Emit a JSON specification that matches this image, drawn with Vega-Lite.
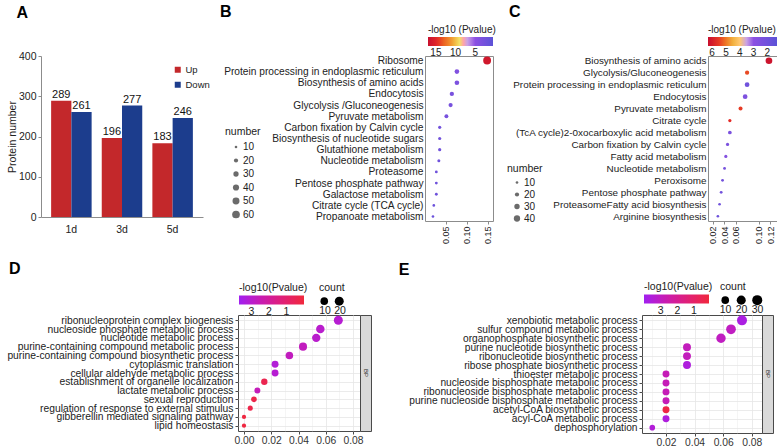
{
  "$schema": "https://vega.github.io/schema/vega-lite/v6.json",
  "background": "white",
  "padding": {"left": 2, "top": 3, "right": 0, "bottom": 0},
  "config": {
    "font": "Liberation Sans",
    "view": {"stroke": null},
    "axis": {"labelFont": "Liberation Sans", "titleFont": "Liberation Sans", "labelColor": "#222", "titleColor": "#222", "titleFontWeight": "normal"},
    "legend": {"labelFont": "Liberation Sans", "titleFont": "Liberation Sans", "labelColor": "#222", "titleColor": "#222", "titleFontWeight": "normal"},
    "title": {"font": "Liberation Sans", "fontSize": 16, "fontWeight": "bold", "color": "#000", "anchor": "start", "frame": "bounds"}
  },
  "datasets": {
    "proteinCounts": [
      {"day": "1d", "direction": "Up", "proteins": 289},
      {"day": "1d", "direction": "Down", "proteins": 261},
      {"day": "3d", "direction": "Up", "proteins": 196},
      {"day": "3d", "direction": "Down", "proteins": 277},
      {"day": "5d", "direction": "Up", "proteins": 183},
      {"day": "5d", "direction": "Down", "proteins": 246}
    ],
    "pathways1": [
      {"pathway": "Ribosome", "ratio": 0.148, "number": 63, "logp": 16.3},
      {"pathway": "Protein processing in endoplasmic reticulum", "ratio": 0.076, "number": 24, "logp": 4.0},
      {"pathway": "Biosynthesis of amino acids", "ratio": 0.076, "number": 24, "logp": 3.5},
      {"pathway": "Endocytosis", "ratio": 0.064, "number": 21, "logp": 3.2},
      {"pathway": "Glycolysis /Gluconeogenesis", "ratio": 0.061, "number": 20, "logp": 3.0},
      {"pathway": "Pyruvate metabolism", "ratio": 0.051, "number": 18, "logp": 3.0},
      {"pathway": "Carbon fixation by Calvin cycle", "ratio": 0.035, "number": 13, "logp": 2.6},
      {"pathway": "Biosynthesis of nucleotide sugars", "ratio": 0.035, "number": 13, "logp": 2.6},
      {"pathway": "Glutathione metabolism", "ratio": 0.035, "number": 13, "logp": 2.5},
      {"pathway": "Nucleotide metabolism", "ratio": 0.033, "number": 12, "logp": 2.4},
      {"pathway": "Proteasome", "ratio": 0.027, "number": 11, "logp": 2.3},
      {"pathway": "Pentose phosphate pathway", "ratio": 0.027, "number": 11, "logp": 2.3},
      {"pathway": "Galactose metabolism", "ratio": 0.027, "number": 11, "logp": 2.2},
      {"pathway": "Citrate cycle (TCA cycle)", "ratio": 0.021, "number": 10, "logp": 2.0},
      {"pathway": "Propanoate metabolism", "ratio": 0.019, "number": 10, "logp": 2.0}
    ],
    "pathways2": [
      {"pathway": "Biosynthesis of amino acids", "ratio": 0.118, "number": 44, "logp": 6.2},
      {"pathway": "Glycolysis/Gluconeogenesis", "ratio": 0.080, "number": 20, "logp": 5.4},
      {"pathway": "Protein processing in endoplasmic reticulum", "ratio": 0.080, "number": 24, "logp": 2.0},
      {"pathway": "Endocytosis", "ratio": 0.0766, "number": 24, "logp": 2.5},
      {"pathway": "Pyruvate metabolism", "ratio": 0.0686, "number": 18, "logp": 5.5},
      {"pathway": "Citrate cycle", "ratio": 0.050, "number": 13, "logp": 5.6},
      {"pathway": "(TcA cycle)2-0xocarboxylic acid metabolism", "ratio": 0.050, "number": 16, "logp": 2.4},
      {"pathway": "Carbon fixation by Calvin cycle", "ratio": 0.046, "number": 13, "logp": 2.4},
      {"pathway": "Fatty acid metabolism", "ratio": 0.043, "number": 13, "logp": 2.7},
      {"pathway": "Nucleotide metabolism", "ratio": 0.0408, "number": 11, "logp": 2.2},
      {"pathway": "Peroxisome", "ratio": 0.0373, "number": 11, "logp": 2.1},
      {"pathway": "Pentose phosphate pathway", "ratio": 0.0349, "number": 11, "logp": 2.1},
      {"pathway": "ProteasomeFatty acid biosynthesis", "ratio": 0.0321, "number": 10, "logp": 2.0},
      {"pathway": "Arginine biosynthesis", "ratio": 0.0292, "number": 10, "logp": 1.9}
    ],
    "goTerms1": [
      {"term": "ribonucleoprotein complex biogenesis", "ratio": 0.0692, "count": 20, "logp": 3.1},
      {"term": "nucleoside phosphate metabolic process", "ratio": 0.056, "count": 16, "logp": 3.0},
      {"term": "nucleotide metabolic process", "ratio": 0.053, "count": 15, "logp": 3.0},
      {"term": "purine-containing compound metabolic process", "ratio": 0.0433, "count": 13, "logp": 2.7},
      {"term": "purine-containing compound biosynthetic process", "ratio": 0.0333, "count": 10, "logp": 2.7},
      {"term": "cytoplasmic translation", "ratio": 0.0228, "count": 7, "logp": 3.2},
      {"term": "cellular aldehyde metabolic process", "ratio": 0.0228, "count": 7, "logp": 3.1},
      {"term": "establishment of organelle localization", "ratio": 0.0149, "count": 5, "logp": 0.4},
      {"term": "lactate metabolic process", "ratio": 0.0098, "count": 4, "logp": 2.6},
      {"term": "sexual reproduction", "ratio": 0.0073, "count": 3, "logp": 0.3},
      {"term": "regulation of response to external stimulus", "ratio": 0.0046, "count": 2, "logp": 0.3},
      {"term": "gibberellin mediated signaling pathway", "ratio": 0.0, "count": 1, "logp": 0.1},
      {"term": "lipid homeostasis", "ratio": 0.0, "count": 1, "logp": 0.1}
    ],
    "goTerms2": [
      {"term": "xenobiotic metabolic process", "ratio": 0.0732, "count": 30, "logp": 3.7},
      {"term": "sulfur compound metabolic process", "ratio": 0.0655, "count": 27, "logp": 3.0},
      {"term": "organophosphate biosynthetic process", "ratio": 0.0585, "count": 24, "logp": 3.0},
      {"term": "purine nucleotide biosynthetic process", "ratio": 0.0347, "count": 12, "logp": 2.9},
      {"term": "ribonucleotide biosynthetic process", "ratio": 0.0347, "count": 12, "logp": 2.9},
      {"term": "ribose phosphate biosynthetic process", "ratio": 0.0347, "count": 12, "logp": 3.6},
      {"term": "thioester metabolic process", "ratio": 0.02, "count": 7, "logp": 2.8},
      {"term": "nucleoside bisphosphate metabolic process", "ratio": 0.02, "count": 7, "logp": 2.8},
      {"term": "ribonucleoside bisphosphate metabolic process", "ratio": 0.02, "count": 7, "logp": 2.8},
      {"term": "purine nucleoside bisphosphate metabolic process", "ratio": 0.02, "count": 7, "logp": 2.8},
      {"term": "acetyl-CoA biosynthetic process", "ratio": 0.02, "count": 7, "logp": 0.3},
      {"term": "acyl-CoA metabolic process", "ratio": 0.02, "count": 7, "logp": 3.6},
      {"term": "dephosphorylation", "ratio": 0.0104, "count": 3, "logp": 3.5}
    ],
    "ontology": [{"ontology": "BP"}]
  },
  "columns": 1,
  "spacing": 15,
  "align": "none",
  "resolve": {"scale": {"color": "independent", "size": "independent"}},
  "concat": [
    {
      "hconcat": [
        {
          "title": {"text": "A", "offset": 30, "dx": 9},
          "width": 162,
          "height": 161,
          "data": {"name": "proteinCounts"},
          "encoding": {
            "x": {"field": "day", "type": "nominal", "sort": null,
                  "scale": {"paddingInner": 0.2, "paddingOuter": 0.2},
                  "axis": {"title": null, "labelAngle": 0, "labelFontSize": 10.5, "domainColor": "#8c8c8c", "ticks": false, "labelPadding": 7}},
            "xOffset": {"field": "direction", "type": "nominal", "sort": ["Up", "Down"]},
            "y": {"field": "proteins", "type": "quantitative", "scale": {"domain": [0, 400]},
                  "axis": {"title": "Protein number", "values": [0, 100, 200, 300, 400], "grid": false, "domainColor": "#8c8c8c", "tickColor": "#8c8c8c", "tickSize": 3, "labelPadding": 2, "labelFontSize": 10.5, "titleFontSize": 10.5, "titlePadding": 1}}
          },
          "layer": [
            {
              "mark": {"type": "bar"},
              "encoding": {
                "color": {"field": "direction", "type": "nominal", "sort": ["Up", "Down"],
                          "scale": {"domain": ["Up", "Down"], "range": ["#c3282b", "#1c3d8d"]},
                          "legend": {"orient": "none", "legendX": 132, "legendY": 9, "title": null, "symbolType": "square", "symbolSize": 36, "labelFontSize": 9.5, "rowPadding": 4, "labelOffset": 3}}
              }
            },
            {
              "mark": {"type": "text", "baseline": "bottom", "dy": -1, "fontSize": 11, "color": "#111"},
              "encoding": {"text": {"field": "proteins", "type": "quantitative"}}
            }
          ]
        },
        {
          "title": {"text": "B", "offset": 5, "dx": 0},
          "width": 68,
          "height": 165,
          "view": {"stroke": "#8c8c8c"},
          "data": {"name": "pathways1"},
          "mark": {"type": "circle", "opacity": 1},
          "encoding": {
            "y": {"field": "pathway", "type": "nominal", "sort": null, "scale": {"type": "point", "padding": 0.4},
                  "axis": {"title": null, "domain": false, "ticks": false, "labelPadding": 2, "labelFontSize": 10.2, "labelLimit": 400, "minExtent": 205}},
            "x": {"field": "ratio", "type": "quantitative", "scale": {"domain": [0, 0.162], "nice": false, "zero": false},
                  "axis": {"title": null, "values": [0.05, 0.1, 0.15], "format": ".2f", "labelAngle": 270, "grid": false, "domain": false, "tickSize": 3, "tickColor": "#8c8c8c", "labelPadding": 2, "labelFontSize": 9}},
            "color": {"field": "logp", "type": "quantitative",
                      "scale": {"domain": [17, 14.5, 11.5, 9, 7, 5, 0.5], "range": ["#c8102e", "#e42a26", "#f08a2c", "#f2e066", "#c9a2e6", "#8c50e2", "#5b52d6"]},
                      "legend": {"orient": "none", "legendX": 3, "legendY": -31, "direction": "horizontal", "title": "-log10 (Pvalue)", "values": [15, 10, 5], "gradientLength": 65, "gradientThickness": 9, "gradientStrokeWidth": 0, "titleFontSize": 10, "labelFontSize": 10, "titlePadding": 2, "labelOffset": 2}},
            "size": {"field": "number", "type": "quantitative",
                     "scale": {"domain": [10, 60], "range": [7, 59], "zero": false},
                     "legend": {"orient": "none", "legendX": -200, "legendY": 71, "title": "number", "values": [10, 20, 30, 40, 50, 60], "symbolFillColor": "#6b6b6b", "symbolStrokeWidth": 0, "symbolOffset": 6, "labelOffset": 2, "clipHeight": 11, "rowPadding": 2.5, "titleFontSize": 10.5, "labelFontSize": 10, "titlePadding": 4}}
          }
        },
        {
          "title": {"text": "C", "offset": 5, "dx": 2},
          "width": 69,
          "height": 165,
          "view": {"stroke": "#8c8c8c"},
          "data": {"name": "pathways2"},
          "mark": {"type": "circle", "opacity": 1},
          "encoding": {
            "y": {"field": "pathway", "type": "nominal", "sort": null, "scale": {"type": "point", "padding": 0.4},
                  "axis": {"title": null, "domain": false, "ticks": false, "labelPadding": 2, "labelFontSize": 9.9, "labelLimit": 400}},
            "x": {"field": "ratio", "type": "quantitative", "scale": {"domain": [0.012, 0.132], "nice": false, "zero": false},
                  "axis": {"title": null, "values": [0.02, 0.04, 0.06, 0.1, 0.12], "format": ".2f", "labelAngle": 270, "grid": false, "domain": false, "tickSize": 3, "tickColor": "#8c8c8c", "labelPadding": 2, "labelFontSize": 9}},
            "color": {"field": "logp", "type": "quantitative",
                      "scale": {"domain": [6.3, 5.6, 4.8, 4.1, 3.5, 3.0, 1.3], "range": ["#c8102e", "#e42a26", "#f08a2c", "#f2e066", "#c9a2e6", "#8c50e2", "#5b52d6"]},
                      "legend": {"orient": "none", "legendX": 0, "legendY": -31, "direction": "horizontal", "title": "-log10 (Pvalue)", "values": [6, 5, 4, 3, 2], "gradientLength": 69, "gradientThickness": 9, "gradientStrokeWidth": 0, "titleFontSize": 10, "labelFontSize": 10, "titlePadding": 2, "labelOffset": 2}},
            "size": {"field": "number", "type": "quantitative",
                     "scale": {"domain": [10, 40], "range": [7, 40], "zero": false},
                     "legend": {"orient": "none", "legendX": -201, "legendY": 108, "title": "number", "values": [10, 20, 30, 40], "symbolFillColor": "#6b6b6b", "symbolStrokeWidth": 0, "symbolOffset": 5, "labelOffset": 2, "clipHeight": 10, "rowPadding": 2, "titleFontSize": 10.5, "labelFontSize": 10, "titlePadding": 3}}
          }
        }
      ],
      "spacing": 9,
      "resolve": {"scale": {"color": "independent", "size": "independent"}}
    },
    {
      "hconcat": [
        {
          "width": 1,
          "height": 1,
          "data": {"values": []},
          "mark": {"type": "point", "opacity": 0},
          "encoding": {}
        },
        {
          "hconcat": [
            {
              "hconcat": [
                {
                  "title": {"text": "D", "offset": 6, "dx": 6},
                  "width": 122,
                  "height": 116,
                  "view": {"stroke": "#4a4a4a", "fill": "white"},
                  "data": {"name": "goTerms1"},
                  "mark": {"type": "circle", "opacity": 1},
                  "encoding": {
                    "y": {"field": "term", "type": "nominal", "sort": null, "scale": {"type": "point", "padding": 0.6},
                          "axis": {"title": null, "grid": true, "gridColor": "#e6e6e6", "gridWidth": 0.8, "domain": false, "tickSize": 3, "tickColor": "#4a4a4a", "labelPadding": 2, "labelFontSize": 10.3, "labelLimit": 400, "minExtent": 235}},
                    "x": {"field": "ratio", "type": "quantitative", "scale": {"domain": [-0.0044, 0.0851], "nice": false, "zero": false},
                          "axis": {"title": null, "values": [0, 0.01, 0.02, 0.03, 0.04, 0.05, 0.06, 0.07, 0.08],
                                   "labelExpr": "round(datum.value * 100) % 2 == 0 ? format(datum.value, '.2f') : ''",
                                   "grid": true, "gridColor": "#e6e6e6",
                                   "gridWidth": {"condition": {"test": "round(datum.value * 100) % 2 == 1", "value": 0.4}, "value": 0.8},
                                   "tickOpacity": {"condition": {"test": "round(datum.value * 100) % 2 == 1", "value": 0}, "value": 1},
                                   "domain": false, "tickSize": 3, "tickColor": "#4a4a4a", "labelPadding": 1, "labelFontSize": 10.3, "labelColor": "#333"}},
                    "color": {"field": "logp", "type": "quantitative",
                              "scale": {"domain": [3.7, 0], "range": ["#a020f0", "#f0283c"], "interpolate": "lab"},
                              "legend": {"orient": "none", "legendX": 1, "legendY": -32, "direction": "horizontal", "title": "-log10(Pvalue)", "values": [3, 2, 1], "gradientLength": 65, "gradientThickness": 9, "gradientStrokeWidth": 0, "titleFontSize": 10.5, "labelFontSize": 10.5, "titlePadding": 2, "labelOffset": 2}},
                    "size": {"field": "count", "type": "quantitative",
                             "scale": {"type": "sqrt", "domain": [0, 20], "range": [0, 81]},
                             "legend": {"orient": "none", "legendX": 81, "legendY": -32, "direction": "horizontal", "title": "count", "values": [10, 20], "symbolFillColor": "#000", "symbolStrokeWidth": 0, "labelExpr": "['', datum.label]", "labelAlign": "center", "labelBaseline": "alphabetic", "labelOffset": -4.5, "columnPadding": 3, "titleFontSize": 10.5, "labelFontSize": 10.5, "titlePadding": 2}}
                  }
                },
                {
                  "width": 11,
                  "height": 116,
                  "view": {"fill": "#d9d9d9", "stroke": "#4a4a4a"},
                  "data": {"name": "ontology"},
                  "mark": {"type": "text", "angle": 90, "fontSize": 6, "color": "#1a1a1a"},
                  "encoding": {
                    "x": {"field": "ontology", "type": "nominal", "axis": null},
                    "y": {"field": "ontology", "type": "nominal", "axis": null},
                    "text": {"field": "ontology"}
                  }
                }
              ],
              "spacing": 0,
              "bounds": "flush",
              "resolve": {"scale": {"color": "independent", "size": "independent"}}
            },
            {
              "hconcat": [
                {
                  "title": {"text": "E", "offset": 4, "dx": -10},
                  "width": 120,
                  "height": 118,
                  "view": {"stroke": "#4a4a4a", "fill": "white"},
                  "data": {"name": "goTerms2"},
                  "mark": {"type": "circle", "opacity": 1},
                  "encoding": {
                    "y": {"field": "term", "type": "nominal", "sort": null, "scale": {"type": "point", "padding": 0.6},
                          "axis": {"title": null, "grid": true, "gridColor": "#e6e6e6", "gridWidth": 0.8, "domain": false, "tickSize": 3, "tickColor": "#4a4a4a", "labelPadding": 2, "labelFontSize": 10.2, "labelLimit": 400}},
                    "x": {"field": "ratio", "type": "quantitative", "scale": {"domain": [0.0032, 0.0872], "nice": false, "zero": false},
                          "axis": {"title": null, "values": [0.01, 0.02, 0.03, 0.04, 0.05, 0.06, 0.07, 0.08],
                                   "labelExpr": "round(datum.value * 100) % 2 == 0 ? format(datum.value, '.2f') : ''",
                                   "grid": true, "gridColor": "#e6e6e6",
                                   "gridWidth": {"condition": {"test": "round(datum.value * 100) % 2 == 1", "value": 0.4}, "value": 0.8},
                                   "tickOpacity": {"condition": {"test": "round(datum.value * 100) % 2 == 1", "value": 0}, "value": 1},
                                   "domain": false, "tickSize": 3, "tickColor": "#4a4a4a", "labelPadding": 1, "labelFontSize": 10.3, "labelColor": "#333"}},
                    "color": {"field": "logp", "type": "quantitative",
                              "scale": {"domain": [4.0, 0.1], "range": ["#a020f0", "#f0283c"], "interpolate": "lab"},
                              "legend": {"orient": "none", "legendX": 2, "legendY": -33, "direction": "horizontal", "title": "-log10(Pvalue)", "values": [3, 2, 1], "gradientLength": 65, "gradientThickness": 9, "gradientStrokeWidth": 0, "titleFontSize": 10.5, "labelFontSize": 10.5, "titlePadding": 2, "labelOffset": 2}},
                    "size": {"field": "count", "type": "quantitative",
                             "scale": {"type": "sqrt", "domain": [0, 30], "range": [0, 100]},
                             "legend": {"orient": "none", "legendX": 78, "legendY": -33, "direction": "horizontal", "title": "count", "values": [10, 20, 30], "symbolFillColor": "#000", "symbolStrokeWidth": 0, "labelExpr": "['', datum.label]", "labelAlign": "center", "labelBaseline": "alphabetic", "labelOffset": -5, "columnPadding": 3, "titleFontSize": 10.5, "labelFontSize": 10.5, "titlePadding": 2}}
                  }
                },
                {
                  "width": 11,
                  "height": 118,
                  "view": {"fill": "#d9d9d9", "stroke": "#4a4a4a"},
                  "data": {"name": "ontology"},
                  "mark": {"type": "text", "angle": 90, "fontSize": 6, "color": "#1a1a1a"},
                  "encoding": {
                    "x": {"field": "ontology", "type": "nominal", "axis": null},
                    "y": {"field": "ontology", "type": "nominal", "axis": null},
                    "text": {"field": "ontology"}
                  }
                }
              ],
              "spacing": 0,
              "bounds": "flush",
              "resolve": {"scale": {"color": "independent", "size": "independent"}}
            }
          ],
          "spacing": 26,
          "resolve": {"scale": {"color": "independent", "size": "independent"}}
        }
      ],
      "spacing": -40,
      "resolve": {"scale": {"color": "independent", "size": "independent"}}
    }
  ]
}
